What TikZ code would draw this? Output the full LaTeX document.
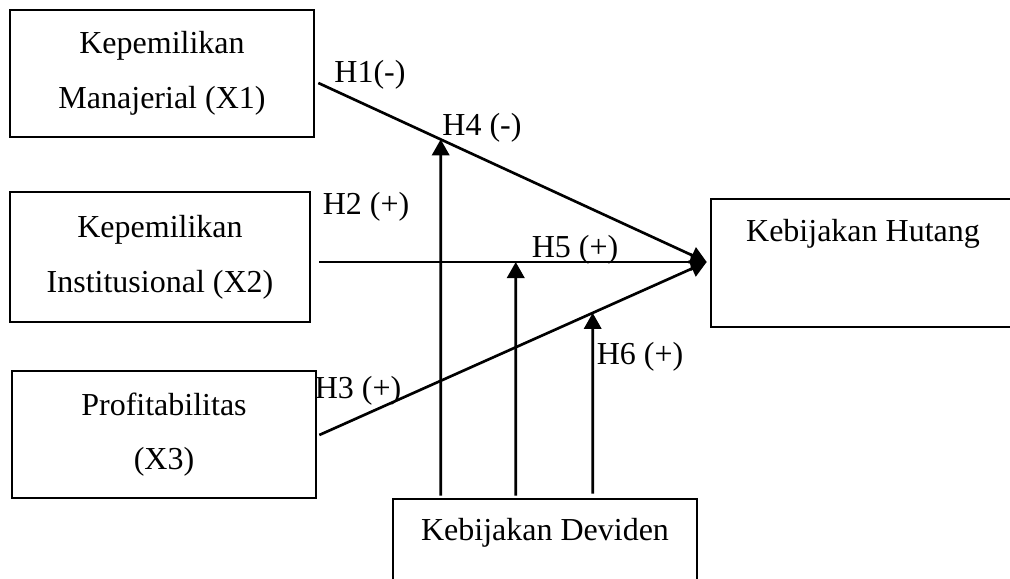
\documentclass[tikz,border=0pt]{standalone}
\usepackage{fontspec}
\setmainfont{Liberation Serif}
\usetikzlibrary{arrows.meta,calc}
\tikzset{
	varbox/.style={draw, line width=1pt, inner sep=0pt, align=center,
			minimum width=114pt, minimum height=47.6pt,
			font=\fontsize{12}{20.5}\selectfont},
	link/.style={line width=1pt, -{Triangle[length=6pt,width=6.5pt]}},
	hyp/.style={font=\fontsize{12}{14}\selectfont, inner sep=0pt}
}

\begin{document}
\begin{tikzpicture}[x=0.375pt, y=-0.375pt]
			\clip (0,0) rectangle (1010,579);

			\node[varbox] (x1) at (162,73.5) {Kepemilikan\\Manajerial (X1)};
			\node[varbox, minimum width=112.5pt, minimum height=48.75pt] (x2) at (160,257) {Kepemilikan\\Institusional (X2)};
			\node[varbox] (x3) at (164,434.5) {Profitabilitas\\(X3)};
			\node[varbox, minimum height=48pt] (hutang) at (863,263) {Kebijakan Hutang\\[4pt]~};
			\node[varbox] (deviden) at (545,562.5) {Kebijakan Deviden\\[4pt]~};

			% direct paths
			\coordinate (tip) at ($(hutang.west)+(-3,-1)$);
			\coordinate (s1) at ($(x1.east)+(3,9.5)$);
			\coordinate (s2) at ($(x2.east)+(8,5)$);
			\coordinate (s3) at ($(x3.east)+(2,0.5)$);
			\draw[link]	(s1) -- (tip);
			\draw[link]	(s2) -- (tip);
			\draw[link]	(s3) -- (tip);

			% moderating paths
			\coordinate (d4) at ($(deviden.north west)+(49,-2)$);
			\coordinate (d5) at ($(deviden.north west)+(124,-2)$);
			\coordinate (d6) at ($(deviden.north west)+(201,-4)$);
			\coordinate (u4) at (d4 |- x1.north);
			\coordinate (u5) at (d5 |- x1.north);
			\coordinate (u6) at (d6 |- x1.north);
			\draw[link]	(d4) -- (intersection of d4--u4 and s1--tip);
			\draw[link]	(d5) -- (intersection of d5--u5 and s2--tip);
			\draw[link]	(d6) -- (intersection of d6--u6 and s3--tip);

			\node[hyp] (h1) at (370,75) {H1(-)};
			\node[hyp] (h4) at (482,128) {H4 (-)};
			\node[hyp] (h2) at (366,207) {H2 (+)};
			\node[hyp] (h5) at (575,250) {H5 (+)};
			\node[hyp] (h6) at (640,357) {H6 (+)};
			\node[hyp] (h3) at (358,391) {H3 (+)};
		\end{tikzpicture}
\end{document}
